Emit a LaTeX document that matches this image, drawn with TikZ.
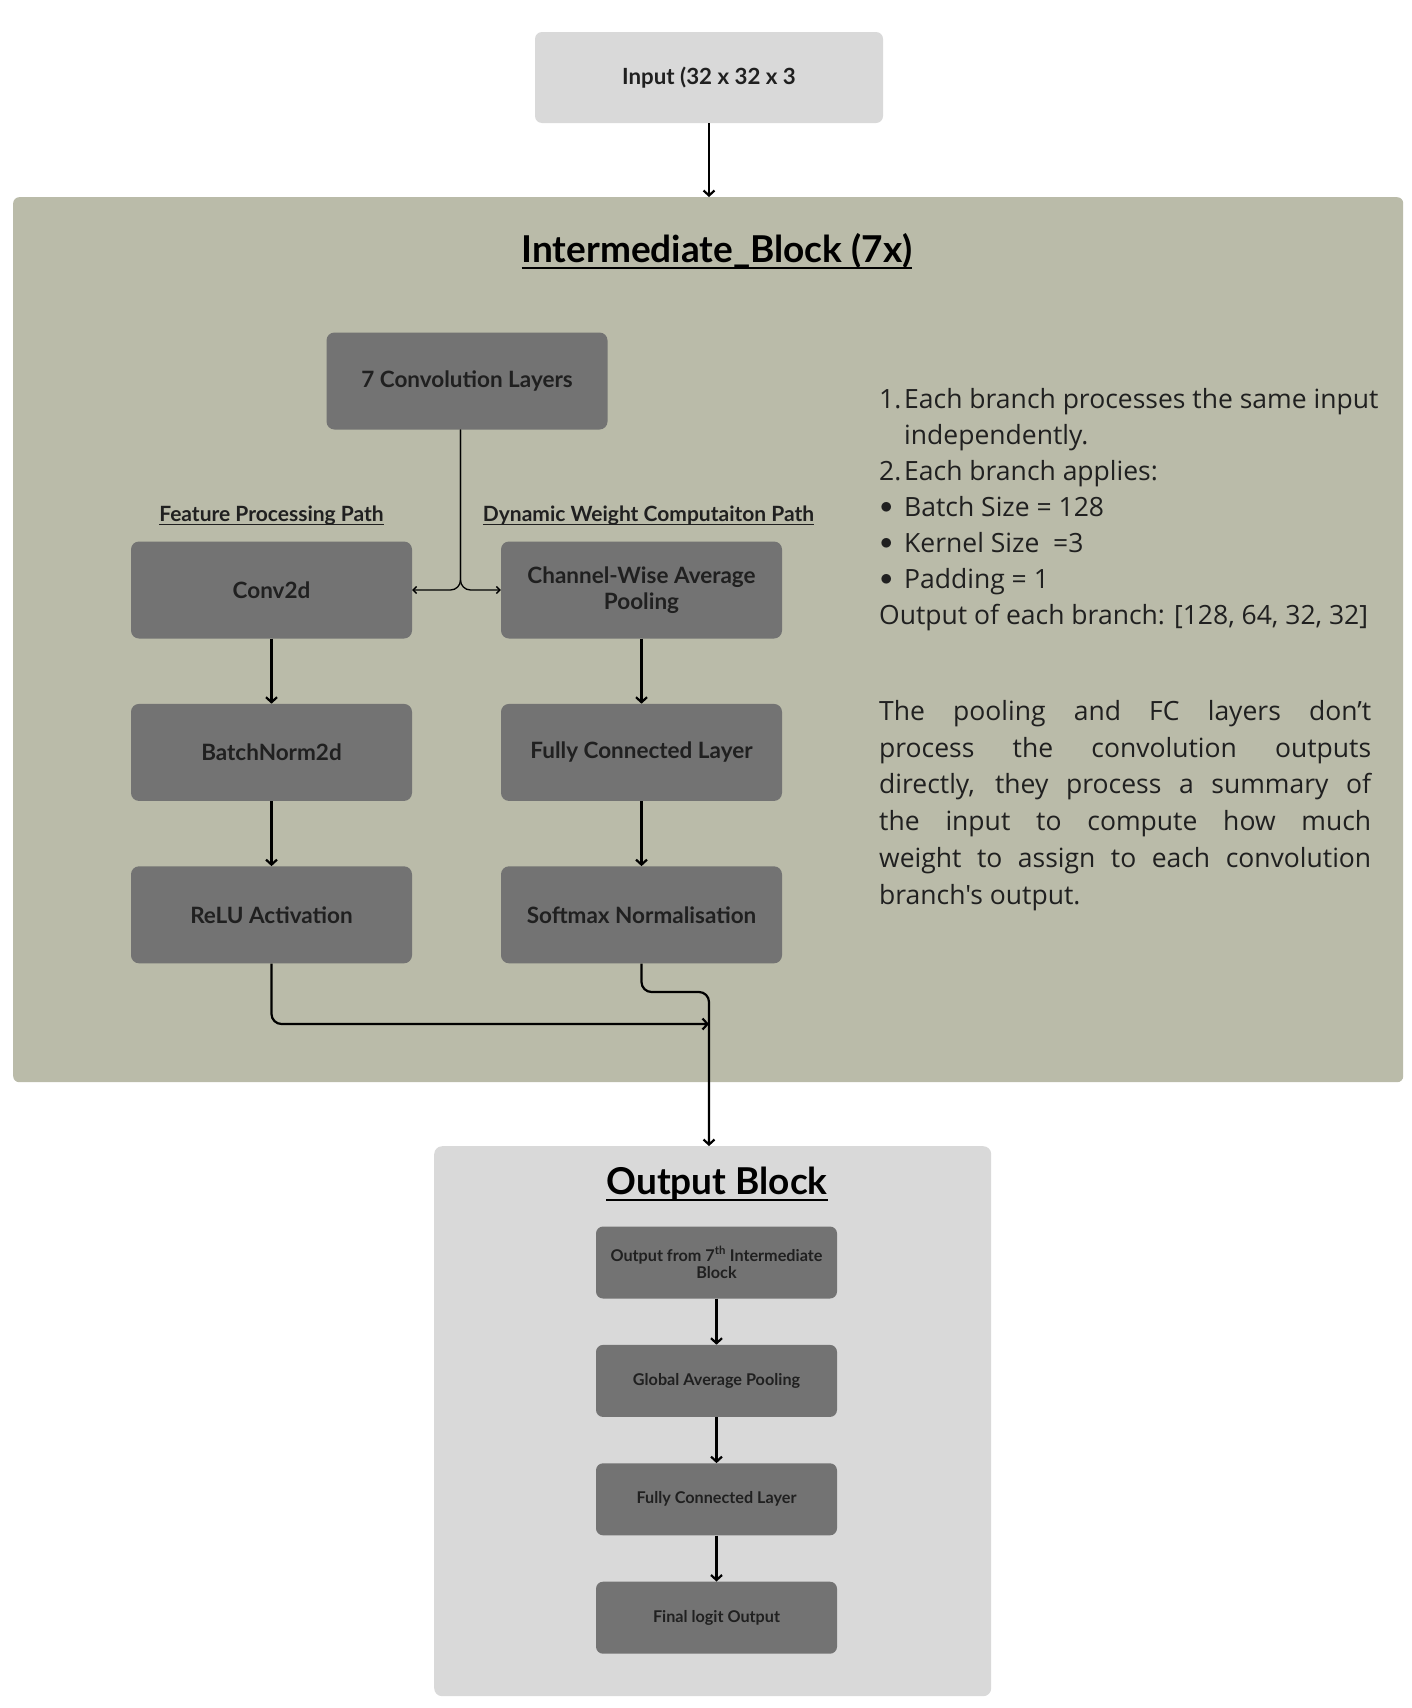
\documentclass[tikz,border=0pt]{standalone}
\usepackage{fontspec}
\setmainfont{Lato}
\newfontfamily\notefont{Open Sans}
\usetikzlibrary{positioning,arrows.meta}
\definecolor{blockgreen}{RGB}{186,187,169}
\definecolor{boxgray}{RGB}{115,115,115}
\definecolor{paleGray}{RGB}{217,217,217}
\definecolor{inkdark}{RGB}{32,32,32}
\newcommand{\ulinetext}[1]{\setbox0\hbox{#1}\rlap{\rule[-0.17em]{\wd0}{0.065em}}\box0}
\newcommand{\dotmark}{\makebox[25pt][l]{\hspace{1pt}\raisebox{0.12em}{$\bullet$}}}

\begin{document}
\begin{tikzpicture}[x=1pt, y=-1pt,
  layer/.style={fill=boxgray, rounded corners=8pt,
                minimum width=281pt, minimum height=97pt,
                align=center, text=inkdark,
                font=\fontsize{22.5}{26}\selectfont\bfseries},
  outlayer/.style={fill=boxgray, rounded corners=7pt,
                   minimum width=241pt, minimum height=72pt,
                   align=center, text=inkdark,
                   font=\fontsize{16.2}{17.5}\selectfont\bfseries},
  pathlabel/.style={text=inkdark, inner sep=2pt,
                    font=\fontsize{21}{24}\selectfont\bfseries},
  heading/.style={text=black, font=\fontsize{37}{42}\selectfont\bfseries},
  note/.style={text=inkdark, inner sep=0pt, anchor=north west,
               font=\notefont\fontsize{26.5}{36.8}\selectfont},
  link/.style={draw, line width=2.2pt, -{Straight Barb[length=5pt,width=11pt]}},
  split/.style={draw, line width=1.3pt, -{Straight Barb[length=3.5pt,width=7pt]}},
  ]
  \fill[white] (0,0) rectangle (1412,1708);
  \useasboundingbox (0,0) rectangle (1412,1708);

  \node[fill=paleGray, rounded corners=7pt, minimum width=348pt, minimum height=91pt,
        text=inkdark, font=\fontsize{22.3}{26}\selectfont\bfseries] (input) at (709,77.5)
    {Input (32 x 32 x 3};

  \node[fill=blockgreen, rounded corners=6pt, minimum width=1390pt, minimum height=885pt,
        anchor=north west] (interblk) at (13,197) {};
  \node[heading] (intertitle) at (717,251.5) {\ulinetext{Intermediate\_Block (7x)}};

  \node[layer] (conv7) at (467,381) {7 Convolution Layers};
  \node[layer] (conv2d) at (271.5,590) {Conv2d};
  \node[layer, below=65pt of conv2d] (bn) {BatchNorm2d};
  \node[layer, below=65pt of bn] (relu) {ReLU Activation};
  \node[layer] (cwap) at (641.5,590) {Channel-Wise Average\\Pooling};
  \node[layer, below=65pt of cwap] (fc) {Fully Connected Layer};
  \node[layer, below=65pt of fc] (smax) {Softmax Normalisation};

  \node[pathlabel, above=14pt of conv2d] (featlbl) {\ulinetext{Feature Processing Path}};
  \node[pathlabel, above=14pt of cwap, xshift=7pt] (dynlbl) {\ulinetext{Dynamic Weight Computaiton Path}};

  \node[note, align=left, font=\notefont\fontsize{26.5}{36.1}\selectfont] (steps) at (879,388)
    {\makebox[25pt][l]{1.}Each branch processes the same input\\
     \hspace*{25pt}independently.\\
     \makebox[25pt][l]{2.}Each branch applies:\\
     \dotmark Batch Size = 128\\
     \dotmark Kernel Size\ \ =3\\
     \dotmark Padding = 1\\
     Output of each branch: [128, 64, 32, 32]};
  \node[note, text width=492pt, align=justify] (summary) at (879,700)
    {The pooling and FC layers don’t\linebreak
     process the convolution outputs\linebreak
     directly, they process a summary of\linebreak
     the input to compute how much\linebreak
     weight to assign to each convolution\linebreak
     branch's output.};

  \node[fill=paleGray, rounded corners=8pt, minimum width=557pt, minimum height=550pt,
        anchor=north west] (outblk) at (434,1146) {};
  \node[heading] (outtitle) at (717,1184) {\ulinetext{Output Block}};
  \node[outlayer] (ob1) at (716.5,1262.5) {Output from 7\textsuperscript{th} Intermediate\\Block};
  \node[outlayer, below=46pt of ob1] (ob2) {Global Average Pooling};
  \node[outlayer, below=46pt of ob2] (ob3) {Fully Connected Layer};
  \node[outlayer, below=46pt of ob3] (ob4) {Final logit Output};

  \coordinate (forktop) at ([xshift=-6.5pt]conv7.south);
  \coordinate (merge) at (709,1024);
  \coordinate (jog) at (709,992);

  \draw[link] (input.south) -- (input.south |- interblk.north);
  \draw[split, rounded corners=10pt] (forktop) |- (conv2d.east);
  \draw[split, rounded corners=10pt] (forktop) |- (cwap.west);
  \draw[link] (conv2d) -- (bn);
  \draw[link] (bn) -- (relu);
  \draw[link] (cwap) -- (fc);
  \draw[link] (fc) -- (smax);
  \draw[link, rounded corners=10pt] (relu.south) |- (merge);
  \draw[link, rounded corners=10pt] (smax.south) |- (jog) -- (merge |- outblk.north);
  \draw[link] (ob1) -- (ob2);
  \draw[link] (ob2) -- (ob3);
  \draw[link] (ob3) -- (ob4);
\end{tikzpicture}
\end{document}
